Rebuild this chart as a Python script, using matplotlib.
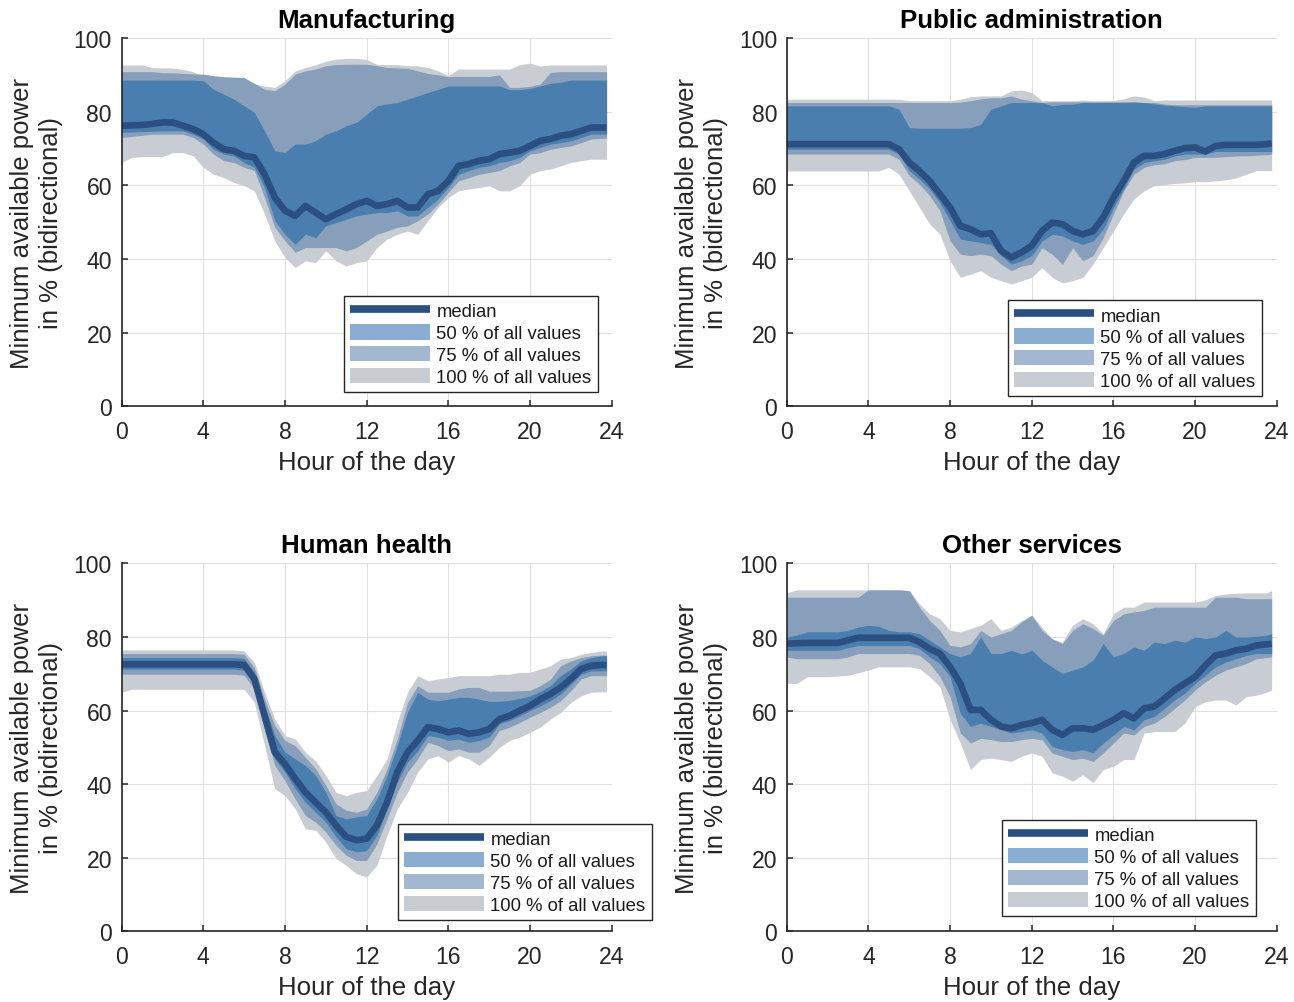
import numpy as np
import matplotlib
matplotlib.use("Agg")
import matplotlib.pyplot as plt
from matplotlib.patches import Patch
from matplotlib.lines import Line2D

plt.rcParams["font.family"] = ["Liberation Sans", "DejaVu Sans"]

# hour of the day (half-hour steps, last sample at 23:45)
hours = np.append(np.arange(0, 24, 0.5), 23.75)

# ---- Manufacturing ----
manu_max = [92.7, 92.7, 92.7, 92.0, 91.9, 91.9, 91.5, 90.9, 89.5, 89.3,
            89.3, 88.8, 88.4, 87.6, 87.0, 86.6, 88.4, 91.1, 92.0, 92.8,
            93.7, 94.3, 94.5, 94.5, 94.2, 92.9, 92.8, 92.8, 92.5, 92.5,
            92.0, 91.1, 89.8, 91.6, 91.6, 91.6, 91.6, 91.6, 91.6, 92.8,
            93.2, 92.4, 92.7, 92.7, 92.7, 92.7, 92.7, 92.7, 92.7]
manu_p75_hi = [90.9, 90.9, 90.9, 90.9, 90.6, 90.6, 90.4, 90.3, 90.2, 89.8,
               89.5, 89.4, 89.3, 87.7, 86.1, 85.7, 87.5, 90.2, 91.1, 91.6,
               92.5, 92.8, 92.9, 92.9, 92.9, 92.5, 92.0, 91.9, 91.8, 91.1,
               90.4, 90.0, 89.5, 89.6, 89.6, 89.6, 89.6, 90.0, 86.6, 86.6,
               86.9, 87.5, 90.7, 90.9, 90.9, 90.9, 90.9, 90.9, 90.9]
manu_p50_hi = [88.6, 88.6, 88.6, 88.6, 88.6, 88.6, 88.6, 88.6, 88.4, 86.1,
               84.8, 83.4, 81.6, 79.8, 74.8, 69.4, 68.9, 71.2, 71.2, 72.1,
               73.9, 74.8, 76.2, 77.1, 79.3, 81.6, 82.1, 82.5, 83.4, 84.3,
               85.2, 86.1, 87.0, 87.0, 87.0, 87.0, 87.0, 87.0, 86.0, 86.0,
               86.3, 87.0, 87.7, 88.0, 88.6, 88.6, 88.6, 88.6, 88.6]
manu_med = [76.2, 76.3, 76.4, 76.7, 77.1, 77.1, 76.2, 75.3, 73.9, 71.6,
            69.8, 69.4, 68.0, 67.6, 63.0, 56.7, 53.1, 51.7, 54.4, 52.6,
            50.8, 52.2, 53.5, 54.9, 55.8, 54.4, 54.9, 55.8, 54.0, 54.0,
            57.6, 58.5, 61.2, 65.3, 65.8, 66.7, 67.1, 68.5, 68.9, 69.4,
            70.7, 72.1, 72.6, 73.5, 73.9, 74.8, 75.7, 75.7, 75.7]
manu_p50_lo = [74.4, 74.5, 74.6, 74.7, 74.8, 74.8, 74.8, 73.9, 72.6, 69.8,
               68.5, 68.0, 66.2, 64.9, 59.4, 50.4, 46.7, 44.0, 46.7, 45.8,
               49.0, 49.9, 50.8, 51.7, 52.2, 52.6, 52.6, 53.1, 51.7, 51.7,
               54.0, 56.3, 59.4, 63.0, 64.0, 64.9, 65.3, 66.2, 66.7, 67.6,
               69.4, 70.3, 71.2, 71.6, 72.1, 73.0, 73.9, 73.9, 73.9]
manu_p75_lo = [73.0, 73.3, 73.6, 73.9, 73.9, 73.9, 73.9, 73.0, 71.2, 68.5,
               66.7, 66.2, 64.9, 64.0, 56.7, 48.6, 44.9, 41.8, 43.1, 43.1,
               43.1, 43.1, 42.2, 43.1, 44.9, 46.7, 47.6, 48.6, 49.0, 50.4,
               52.2, 54.9, 58.1, 61.2, 62.1, 63.0, 63.5, 64.0, 65.3, 66.2,
               68.5, 68.9, 69.8, 70.3, 70.7, 71.6, 72.6, 72.8, 72.8]
manu_min = [66.2, 67.6, 67.8, 67.8, 67.8, 68.9, 68.9, 68.0, 64.9, 63.0,
            62.1, 60.8, 59.9, 58.5, 52.2, 44.9, 40.4, 37.7, 39.5, 39.0,
            42.2, 39.5, 38.1, 39.0, 39.5, 43.1, 45.4, 46.7, 47.6, 46.7,
            50.4, 54.0, 56.7, 58.5, 59.0, 59.4, 59.9, 58.5, 58.5, 59.9,
            63.0, 64.0, 64.4, 65.3, 66.2, 66.7, 67.1, 67.1, 67.1]

# ---- Public administration ----
pub_max = [83.4, 83.4, 83.4, 83.4, 83.4, 83.4, 83.4, 83.4, 83.4, 83.4,
           83.4, 83.4, 83.0, 83.0, 83.0, 83.0, 83.0, 83.4, 84.1, 84.3,
           84.3, 84.3, 85.7, 85.9, 85.2, 83.0, 83.0, 83.0, 83.0, 83.2,
           83.0, 83.0, 83.0, 83.5, 84.3, 84.0, 83.0, 83.2, 83.2, 83.2,
           83.2, 83.2, 83.2, 83.2, 83.2, 83.2, 83.2, 83.2, 83.2]
pub_p75_hi = [82.5, 82.5, 82.5, 82.5, 82.5, 82.5, 82.5, 82.5, 82.5, 82.5,
              82.5, 82.5, 82.5, 82.5, 82.5, 82.5, 82.5, 82.6, 83.0, 83.5,
              83.8, 83.8, 84.3, 83.4, 83.0, 82.5, 82.7, 82.7, 82.7, 82.7,
              82.7, 82.7, 82.7, 82.7, 82.8, 82.5, 82.5, 82.1, 81.9, 81.9,
              81.9, 81.9, 81.9, 81.9, 81.9, 81.9, 81.9, 81.9, 81.9]
pub_p50_hi = [81.6, 81.6, 81.6, 81.6, 81.6, 81.6, 81.6, 81.6, 81.6, 81.6,
              81.6, 80.7, 75.7, 75.5, 75.5, 75.5, 75.5, 75.5, 75.7, 76.6,
              80.7, 81.6, 82.5, 82.5, 82.5, 82.5, 81.6, 82.0, 82.0, 82.5,
              82.5, 82.5, 82.5, 82.5, 82.5, 82.5, 82.1, 81.8, 81.6, 81.4,
              81.2, 81.6, 81.6, 81.6, 81.6, 81.6, 81.6, 81.6, 81.6]
pub_med = [71.2, 71.2, 71.2, 71.2, 71.2, 71.2, 71.2, 71.2, 71.2, 71.2,
           71.2, 69.8, 66.2, 63.9, 61.2, 57.6, 54.0, 49.0, 48.1, 46.7,
           47.0, 42.2, 40.4, 41.8, 43.6, 47.6, 49.9, 49.5, 47.6, 46.7,
           47.6, 51.3, 56.7, 61.2, 66.2, 68.0, 68.0, 68.5, 69.4, 70.1,
           70.3, 69.2, 70.7, 71.0, 71.0, 71.0, 71.0, 71.2, 71.4]
pub_p50_lo = [69.8, 69.8, 69.8, 69.8, 69.8, 69.8, 69.8, 69.8, 69.8, 69.8,
              69.8, 68.5, 64.0, 61.7, 59.0, 55.3, 50.4, 45.4, 44.9, 44.5,
              44.0, 40.9, 38.6, 39.5, 40.9, 44.9, 46.7, 46.3, 44.9, 44.0,
              44.9, 48.1, 54.0, 59.0, 64.4, 66.2, 66.7, 67.1, 68.0, 68.5,
              68.5, 68.5, 69.2, 69.2, 69.2, 69.2, 69.2, 69.2, 69.2]
pub_p75_lo = [68.5, 68.5, 68.5, 68.5, 68.5, 68.5, 68.5, 68.5, 68.5, 68.5,
              68.5, 67.1, 62.6, 60.3, 57.2, 53.1, 44.9, 41.3, 40.9, 41.3,
              40.9, 38.6, 36.8, 38.1, 38.6, 43.1, 41.3, 38.5, 43.1, 39.5,
              40.9, 45.8, 52.2, 58.5, 63.0, 64.9, 65.6, 65.9, 66.7, 67.0,
              67.6, 67.6, 67.6, 67.8, 68.0, 68.0, 68.2, 68.3, 68.5]
pub_min = [63.9, 63.9, 63.9, 63.9, 63.9, 63.9, 63.9, 63.9, 63.9, 63.9,
           64.9, 63.0, 58.5, 54.0, 49.5, 46.7, 39.5, 35.0, 35.9, 36.8,
           35.0, 34.1, 33.2, 34.1, 35.0, 37.7, 35.0, 33.5, 34.1, 35.0,
           38.6, 43.1, 47.6, 52.2, 56.3, 58.5, 59.9, 60.2, 60.5, 60.7,
           61.0, 61.0, 61.2, 61.5, 62.0, 63.0, 64.0, 64.0, 64.0]

# ---- Human health ----
hh_max = [76.5, 76.5, 76.5, 76.5, 76.5, 76.5, 76.5, 76.5, 76.5, 76.5,
          76.5, 76.5, 76.2, 73.1, 65.0, 57.7, 53.2, 52.3, 48.7, 46.4,
          42.4, 37.8, 36.9, 37.8, 38.3, 42.4, 46.9, 56.8, 65.0, 69.5,
          68.1, 68.6, 69.0, 69.5, 69.5, 69.5, 69.5, 69.9, 69.9, 70.4,
          70.4, 71.3, 72.2, 74.0, 74.4, 75.3, 75.8, 76.2, 76.2]
hh_p75_hi = [75.5, 75.5, 75.5, 75.5, 75.5, 75.5, 75.5, 75.5, 75.5, 75.5,
             75.5, 75.5, 75.3, 71.7, 63.1, 55.9, 51.9, 50.5, 47.3, 44.2,
             39.7, 34.7, 32.9, 32.4, 33.3, 37.8, 44.2, 52.3, 62.2, 66.8,
             65.0, 65.0, 65.0, 65.9, 66.3, 66.3, 65.3, 65.3, 65.3, 65.4,
             65.5, 66.8, 68.5, 72.2, 73.5, 74.4, 74.9, 75.1, 75.1]
hh_p50_hi = [74.4, 74.4, 74.4, 74.4, 74.4, 74.4, 74.4, 74.4, 74.4, 74.4,
             74.4, 74.4, 74.2, 70.4, 61.3, 53.2, 48.7, 46.9, 45.1, 42.4,
             37.8, 31.5, 30.6, 31.1, 31.5, 36.0, 42.4, 50.5, 59.5, 65.0,
             63.1, 62.7, 63.1, 63.6, 63.6, 63.1, 62.5, 62.5, 62.8, 63.3,
             64.0, 65.2, 66.8, 69.5, 71.3, 73.5, 74.4, 74.9, 74.9]
hh_med = [72.6, 72.6, 72.6, 72.6, 72.6, 72.6, 72.6, 72.6, 72.6, 72.6,
          72.6, 72.6, 72.4, 68.6, 58.6, 48.7, 45.5, 41.5, 37.8, 35.1,
          32.4, 28.8, 25.7, 24.8, 25.2, 28.8, 35.1, 43.3, 48.7, 51.9,
          55.5, 55.0, 54.1, 54.6, 53.7, 54.1, 55.0, 57.7, 58.6, 60.0,
          61.3, 63.1, 64.5, 66.3, 68.6, 71.3, 72.2, 72.4, 72.4]
hh_p50_lo = [71.3, 71.3, 71.3, 71.3, 71.3, 71.3, 71.3, 71.3, 71.3, 71.3,
             71.3, 71.3, 71.0, 67.2, 56.8, 46.9, 43.3, 38.8, 35.1, 32.4,
             29.7, 25.7, 22.5, 21.6, 22.0, 26.1, 33.3, 40.6, 46.0, 49.1,
             53.2, 52.8, 51.9, 52.3, 51.4, 51.9, 52.8, 56.4, 57.3, 58.6,
             60.0, 61.3, 62.7, 64.5, 67.2, 69.9, 70.8, 70.8, 70.8]
hh_p75_lo = [69.9, 69.9, 69.9, 69.9, 69.9, 69.9, 69.9, 69.9, 69.9, 69.9,
             69.9, 69.9, 69.6, 65.9, 55.0, 45.1, 41.0, 36.0, 31.5, 29.7,
             27.0, 23.4, 20.7, 19.3, 19.3, 23.8, 30.6, 37.8, 43.3, 46.9,
             51.4, 50.5, 49.1, 49.6, 48.7, 48.7, 50.5, 54.6, 55.5, 56.8,
             58.2, 59.5, 60.9, 62.7, 65.4, 68.6, 69.5, 69.5, 69.5]
hh_min = [65.0, 65.8, 65.8, 65.8, 65.8, 65.8, 65.8, 65.8, 65.8, 65.8,
          65.8, 65.8, 65.8, 62.2, 50.5, 38.8, 36.9, 33.3, 27.9, 27.5,
          24.3, 19.8, 18.0, 15.7, 14.8, 18.0, 26.1, 33.3, 37.8, 43.3,
          46.9, 47.8, 46.0, 47.8, 46.9, 45.1, 47.3, 50.0, 51.9, 52.8,
          54.1, 55.5, 57.7, 59.5, 62.2, 64.0, 65.0, 65.1, 65.1]

# ---- Other services ----
oth_max = [92.0, 92.8, 92.8, 92.8, 92.8, 92.8, 92.8, 92.8, 92.8, 92.8,
           92.8, 92.8, 92.6, 89.0, 86.3, 85.0, 81.8, 81.4, 82.3, 83.2,
           85.0, 81.8, 82.7, 84.5, 85.9, 82.7, 79.5, 78.6, 83.2, 85.0,
           83.6, 80.9, 86.3, 88.1, 88.1, 89.5, 89.5, 89.5, 89.5, 89.5,
           89.5, 90.1, 91.3, 91.7, 91.9, 92.0, 92.0, 92.0, 92.6]
oth_p75_hi = [90.8, 90.8, 90.8, 90.8, 90.8, 90.8, 90.8, 90.8, 92.8, 92.8,
              92.8, 92.8, 92.6, 88.1, 84.5, 81.8, 77.7, 77.3, 78.2, 81.8,
              80.0, 80.9, 81.8, 84.1, 85.9, 81.8, 79.5, 78.2, 81.8, 83.6,
              82.3, 80.5, 84.5, 86.3, 86.8, 87.2, 88.1, 88.1, 88.1, 88.1,
              88.1, 88.1, 90.8, 90.8, 90.8, 90.4, 90.4, 90.4, 90.4]
oth_p50_hi = [80.0, 80.5, 81.4, 81.4, 81.4, 81.4, 81.8, 82.7, 83.2, 82.9,
              81.8, 81.4, 81.4, 80.9, 79.1, 77.3, 75.5, 74.6, 75.5, 80.0,
              75.5, 75.5, 76.4, 75.4, 76.4, 73.7, 71.9, 70.1, 71.0, 71.9,
              73.7, 78.2, 74.6, 75.5, 77.3, 76.4, 78.6, 78.2, 79.1, 78.6,
              80.0, 79.6, 80.0, 81.8, 80.0, 80.0, 80.2, 80.5, 80.9]
oth_med = [78.2, 78.3, 78.4, 78.4, 78.4, 78.4, 79.1, 79.8, 79.8, 79.8,
           79.8, 79.8, 79.8, 78.6, 76.8, 75.5, 71.9, 67.4, 60.2, 60.2,
           57.5, 55.7, 55.2, 56.1, 56.6, 57.5, 54.8, 53.4, 55.2, 55.2,
           54.8, 56.1, 57.5, 59.3, 57.9, 60.6, 61.1, 63.3, 65.6, 67.4,
           69.2, 72.3, 75.0, 75.5, 76.4, 76.8, 77.7, 78.0, 78.2]
oth_p50_lo = [76.4, 76.4, 76.4, 76.4, 76.4, 76.4, 77.1, 77.7, 77.7, 77.7,
              77.7, 77.7, 77.7, 76.8, 74.6, 72.8, 69.2, 59.3, 55.7, 56.6,
              55.7, 54.8, 53.9, 54.3, 54.8, 53.9, 50.3, 49.4, 48.9, 49.4,
              48.5, 51.2, 53.4, 55.7, 54.8, 57.5, 58.4, 60.6, 62.9, 64.7,
              67.4, 69.6, 71.9, 73.2, 74.1, 75.0, 75.5, 75.5, 75.5]
oth_p75_lo = [74.6, 74.1, 74.1, 74.1, 74.1, 74.1, 74.6, 75.5, 75.5, 75.5,
              75.5, 75.5, 75.5, 75.0, 72.8, 69.2, 63.8, 53.9, 51.2, 52.5,
              52.1, 51.6, 51.6, 52.1, 52.5, 52.1, 48.5, 47.6, 46.7, 47.1,
              46.2, 48.5, 51.2, 53.9, 53.4, 55.7, 56.6, 58.4, 60.6, 62.9,
              65.6, 67.8, 69.6, 71.0, 71.9, 72.8, 74.1, 74.4, 74.6]
oth_min = [67.4, 67.4, 69.2, 69.2, 69.2, 69.4, 69.6, 70.3, 71.0, 71.9,
           71.9, 71.9, 71.9, 71.4, 69.2, 66.5, 57.5, 51.2, 44.0, 46.7,
           47.1, 46.7, 46.2, 47.6, 48.5, 47.6, 43.1, 42.2, 40.8, 42.6,
           40.4, 44.0, 44.9, 46.7, 46.7, 53.9, 54.3, 54.3, 54.3, 56.6,
           61.1, 62.4, 62.9, 62.9, 61.5, 63.8, 64.2, 65.0, 65.6]

titles = ["Manufacturing", "Public administration", "Human health", "Other services"]
legend_labels = ["median", "50 % of all values", "75 % of all values", "100 % of all values"]

panels = [
    (manu_min, manu_max, manu_p75_lo, manu_p75_hi, manu_p50_lo, manu_p50_hi, manu_med),
    (pub_min, pub_max, pub_p75_lo, pub_p75_hi, pub_p50_lo, pub_p50_hi, pub_med),
    (hh_min, hh_max, hh_p75_lo, hh_p75_hi, hh_p50_lo, hh_p50_hi, hh_med),
    (oth_min, oth_max, oth_p75_lo, oth_p75_hi, oth_p50_lo, oth_p50_hi, oth_med),
]

c_all = "#c8cdd3"
c_75 = "#879fba"
c_50 = "#4a7eae"
c_med = "#2c4f82"
txt = "#262626"

fig = plt.figure(figsize=(12.94, 10.03), dpi=100)
axes_pos = [(0.0940, 0.594), (0.6080, 0.594), (0.0940, 0.0703), (0.6080, 0.0703)]
leg_anchor = [(0.2658, 0.7039), (0.7790, 0.6999), (0.3076, 0.1775), (0.7743, 0.1815)]

handles = [Line2D([], [], color=c_med, lw=5.5, solid_capstyle="butt"),
           Patch(facecolor="#8aadd1", edgecolor="none"),
           Patch(facecolor="#a3b8d0", edgecolor="none"),
           Patch(facecolor="#c6ccd2", edgecolor="none")]

for i, (mn, mx, q75lo, q75hi, q50lo, q50hi, med) in enumerate(panels):
    ax = fig.add_axes([axes_pos[i][0], axes_pos[i][1], 0.3787, 0.367])
    ax.fill_between(hours, mn, mx, color=c_all, lw=0)
    ax.fill_between(hours, q75lo, q75hi, color=c_75, lw=0)
    ax.fill_between(hours, q50lo, q50hi, color=c_50, lw=0)
    ax.plot(hours, med, color=c_med, lw=4.8, solid_joinstyle="round",
            solid_capstyle="butt")

    ax.set_xlim(0, 24)
    ax.set_ylim(0, 100)
    ax.set_xticks(range(0, 25, 4))
    ax.set_yticks(range(0, 101, 20))
    ax.grid(True, color="#e0e0e0", lw=0.8)
    ax.set_axisbelow(True)
    for s in ["top", "right"]:
        ax.spines[s].set_visible(False)
    for s in ["left", "bottom"]:
        ax.spines[s].set_color(txt)
        ax.spines[s].set_linewidth(1.2)
    ax.tick_params(direction="in", length=4, width=1.1, colors=txt,
                   labelsize=16.6)
    ax.tick_params(axis="x", pad=10)
    ax.tick_params(axis="y", pad=7)

    ax.set_title(titles[i], fontsize=18.6, fontweight="bold", pad=8)
    ax.set_xlabel("Hour of the day", fontsize=18.6, labelpad=5, color=txt)
    ax.set_ylabel("Minimum available power\nin % (bidirectional)",
                  fontsize=18.5, color=txt, linespacing=1.25)
    ax.yaxis.set_label_coords(-0.12, 0.5)

    leg = ax.legend(handles, legend_labels, loc="upper left",
                    bbox_to_anchor=leg_anchor[i], bbox_transform=fig.transFigure,
                    fontsize=13.3, handlelength=4.3, handleheight=0.9,
                    labelspacing=0.2, handletextpad=0.35, borderpad=0.35,
                    borderaxespad=0, fancybox=False, framealpha=1,
                    edgecolor=txt, labelcolor="#1a1a1a")
    leg.get_frame().set_linewidth(1.0)

fig.savefig("out.png", dpi=100)
